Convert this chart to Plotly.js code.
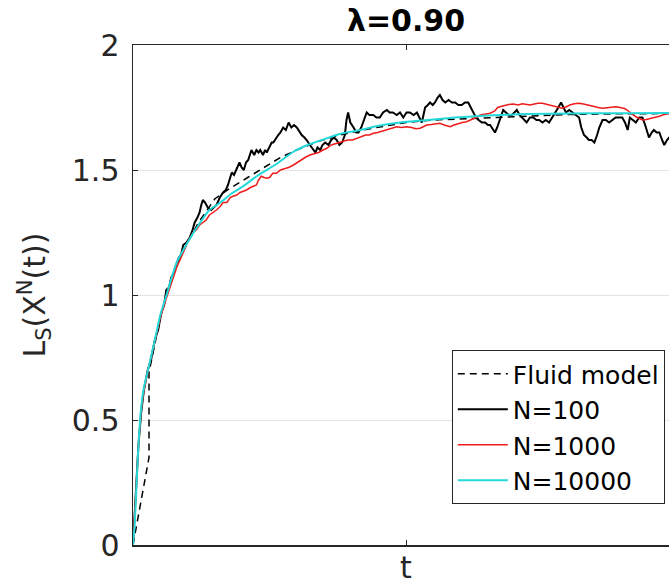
<!DOCTYPE html>
<html>
<head>
<meta charset="utf-8">
<script src="https://cdn.plot.ly/plotly-3.0.1.min.js"></script>
<style>
html,body{margin:0;padding:0;overflow:hidden;background:#fff;}
#chart{width:689px;height:585px;}
</style>
</head>
<body>
<div id="chart"></div>
<script>
// ---- data ----
const fluidT = [0, 2.93, 2.93, 4, 5, 6, 8, 10, 12, 15, 18, 21, 24, 27, 30, 34, 38, 42, 46, 50, 55, 60, 70, 80, 90, 100];
const fluidY = [0, 0.35, 0.69, 0.80, 0.91, 0.99, 1.12, 1.21, 1.29, 1.385, 1.43, 1.47, 1.51, 1.55, 1.58, 1.615, 1.64, 1.66, 1.675, 1.69, 1.70, 1.705, 1.715, 1.722, 1.725, 1.726];

const n100T = [0,0.5,1,1.5,2,2.7,3.3,4,4.6,5.2,5.7,6.1,6.6,7.0,7.5,7.9,8.4,8.8,9.2,9.8,10.4,10.9,11.3,11.8,12.2,12.5,12.8,13.2,13.7,14.3,14.8,15.3,15.9,16.5,17.0,17.4,17.8,18.1,18.5,18.9,19.2,19.5,19.9,20.3,20.7,21.1,21.4,21.7,22.2,22.6,23.0,23.3,23.8,24.2,24.5,25.0,25.4,25.7,26.2,26.6,27.0,27.5,28.0,28.5,29.0,29.5,30.0,30.5,30.9,31.4,31.8,32.4,33.0,33.4,33.8,34.3,34.7,35.2,35.8,36.3,36.8,37.3,37.8,38.3,38.8,39.1,39.4,39.8,40.4,40.9,41.3,41.8,42.3,42.8,43.3,44.0,44.6,45.2,45.8,46.5,47.0,47.6,48.3,48.9,49.5,50.1,50.7,51.4,52.0,52.5,52.9,53.2,53.5,54.0,54.4,54.9,55.3,55.8,56.2,56.7,57.2,57.8,58.4,59.0,59.6,60.2,60.8,61.4,61.9,62.3,62.8,63.3,63.9,64.5,65.0,65.4,65.9,66.3,66.7,67.0,67.4,67.8,68.3,68.8,69.4,69.9,70.3,70.8,71.2,71.7,72.1,72.7,73.3,73.9,74.4,75.0,75.6,76.2,76.8,77.4,77.9,78.4,78.9,79.3,79.9,80.5,81.1,81.7,82.1,82.6,83.1,83.5,84.0,84.5,85.0,85.4,86.0,86.6,87.2,87.8,88.4,89.0,89.6,90.1,90.6,91.0,91.5,92.1,92.7,93.3,93.8,94.2,94.5,95.0,95.4,95.9,96.4,96.9,97.3,97.8,98.2,99.0,100];
const n100Y = [0,0.22,0.40,0.53,0.62,0.70,0.74,0.82,0.86,0.93,0.96,1.02,1.03,1.07,1.09,1.12,1.15,1.16,1.20,1.21,1.23,1.26,1.29,1.31,1.33,1.36,1.38,1.37,1.35,1.34,1.35,1.36,1.39,1.41,1.42,1.44,1.47,1.49,1.48,1.50,1.52,1.53,1.51,1.50,1.53,1.54,1.56,1.58,1.56,1.58,1.57,1.58,1.56,1.58,1.57,1.59,1.61,1.61,1.63,1.64,1.65,1.67,1.66,1.69,1.67,1.68,1.67,1.65,1.64,1.63,1.62,1.60,1.58,1.57,1.59,1.58,1.60,1.61,1.60,1.62,1.63,1.62,1.60,1.61,1.64,1.70,1.73,1.69,1.67,1.65,1.65,1.67,1.70,1.73,1.72,1.72,1.71,1.71,1.73,1.74,1.73,1.73,1.72,1.73,1.71,1.73,1.73,1.72,1.73,1.71,1.69,1.72,1.75,1.76,1.77,1.76,1.77,1.79,1.80,1.78,1.77,1.78,1.77,1.77,1.76,1.76,1.77,1.77,1.75,1.73,1.71,1.70,1.69,1.69,1.68,1.68,1.66,1.65,1.67,1.69,1.72,1.74,1.73,1.72,1.72,1.73,1.74,1.72,1.71,1.70,1.69,1.71,1.71,1.70,1.70,1.69,1.70,1.69,1.71,1.73,1.75,1.77,1.75,1.73,1.74,1.73,1.72,1.71,1.67,1.64,1.63,1.62,1.62,1.61,1.64,1.67,1.70,1.70,1.69,1.70,1.71,1.71,1.71,1.69,1.66,1.71,1.70,1.69,1.71,1.71,1.68,1.65,1.63,1.65,1.66,1.65,1.65,1.62,1.60,1.62,1.63,1.63,1.62];

const n1000T = [0,0.5,1,1.5,2,2.75,4,5,6,7,8,9,10,11,11.6,12.2,12.8,13.4,14,14.7,15.3,16,16.5,17.2,17.8,18.3,19,19.6,20.2,20.8,21.5,22,22.6,23,23.5,24,24.5,25,25.6,26.3,27,27.7,28.5,29.4,30,30.8,31.5,32.4,33.2,34,34.8,35.5,36.3,37.1,37.9,38.6,39.3,40.2,41,41.8,42.6,43.3,44,44.8,45.6,46.5,47.4,48.3,49.2,50.1,51,51.8,52.6,53.2,53.8,54.6,55.4,56.2,57,57.6,58.1,58.8,59.5,60.3,61.1,61.8,62.5,63,63.6,64.5,65.4,66.2,66.8,67.2,68,68.8,69.7,70.5,71.3,72,72.7,73.5,74.2,75,75.8,76.6,77.4,78,78.6,79.3,80,80.8,81.7,82.5,83.5,84.3,85.2,86,86.8,87.6,88.4,89.2,90,90.5,91,91.6,92.1,92.7,93.3,94,94.6,95.1,95.8,96.4,97,97.6,98.2,99,100];
const n1000Y = [0,0.22,0.40,0.54,0.62,0.70,0.82,0.91,0.98,1.05,1.11,1.16,1.21,1.25,1.26,1.28,1.29,1.30,1.32,1.33,1.34,1.355,1.37,1.37,1.39,1.395,1.40,1.41,1.415,1.42,1.43,1.435,1.44,1.46,1.475,1.47,1.467,1.47,1.487,1.487,1.50,1.505,1.51,1.52,1.53,1.54,1.55,1.56,1.565,1.57,1.58,1.587,1.60,1.605,1.613,1.615,1.62,1.62,1.627,1.635,1.64,1.64,1.647,1.65,1.655,1.66,1.665,1.673,1.67,1.673,1.67,1.665,1.667,1.675,1.68,1.682,1.685,1.687,1.68,1.675,1.673,1.68,1.685,1.69,1.693,1.70,1.705,1.712,1.72,1.722,1.727,1.735,1.75,1.753,1.758,1.762,1.764,1.76,1.765,1.762,1.76,1.764,1.767,1.767,1.762,1.757,1.753,1.75,1.747,1.752,1.76,1.765,1.767,1.764,1.76,1.755,1.75,1.747,1.749,1.752,1.753,1.75,1.746,1.74,1.73,1.72,1.713,1.705,1.70,1.702,1.705,1.707,1.71,1.715,1.72,1.723,1.727,1.73,1.728];

const n10000T = [0,0.3,0.6,1.0,1.5,2.0,2.75,4,5,6,8,10,12,14,16,18,20,23,26,29.5,32,35.5,38,41.6,45,49,54,59,65,72,80,90,100];
const n10000Y = [0,0.08,0.22,0.40,0.55,0.63,0.70,0.82,0.92,0.99,1.13,1.21,1.28,1.34,1.37,1.405,1.433,1.48,1.52,1.575,1.60,1.627,1.645,1.66,1.677,1.69,1.70,1.71,1.718,1.724,1.726,1.727,1.728];

const legendNames = ['Fluid model', 'N=100', 'N=1000', 'N=10000'];
const yTicks = [0, 0.5, 1, 1.5, 2];
const xTicks = [50];

const FONT = 'DejaVu Sans, sans-serif';
const AX = '#262626';

const traces = [
  {x: fluidT, y: fluidY, name: legendNames[0], mode: 'lines',
   line: {color: '#000000', width: 1.5, dash: '7px,5px'}},
  {x: n100T, y: n100Y, name: legendNames[1], mode: 'lines',
   line: {color: '#000000', width: 2}},
  {x: n1000T, y: n1000Y, name: legendNames[2], mode: 'lines',
   line: {color: '#ee1c1c', width: 1.5}},
  {x: n10000T, y: n10000Y, name: legendNames[3], mode: 'lines', line: {shape: 'spline', smoothing: 0.6, color: '#22d8d8', width: 2}}
];

const layout = {
  width: 689, height: 585,
  margin: {l: 133, r: 10, t: 45, b: 40},
  paper_bgcolor: '#ffffff', plot_bgcolor: '#ffffff',
  font: {family: FONT, color: AX},
  showlegend: true,
  title: {text: '<b>λ=0.90</b>', font: {family: FONT, size: 30, color: '#000'},
          x: 0.5, xref: 'paper', xanchor: 'center', y: 1 - 20/585, yref: 'container', yanchor: 'middle'},
  xaxis: {
    range: [0, 100], tickmode: 'array', tickvals: xTicks, showticklabels: false,
    ticks: 'inside', ticklen: 5, tickcolor: AX, showgrid: false, zeroline: false,
    showline: true, linecolor: AX, linewidth: 1.5, mirror: 'ticks', automargin: false,
    title: {text: 't', font: {family: FONT, size: 30, color: AX}, standoff: 12}
  },
  yaxis: {
    range: [0, 2], tickmode: 'array', tickvals: yTicks, ticktext: yTicks.map(String),
    ticks: 'inside', ticklen: 5, tickcolor: AX, showgrid: true, gridcolor: '#e3e3e3', gridwidth: 1,
    zeroline: false, showline: true, linecolor: AX, linewidth: 1.5, mirror: 'ticks', automargin: false,
    tickfont: {family: FONT, size: 30, color: AX}, ticklabelstandoff: 6,
    title: {text: 'L<sub>S</sub>(X<sup>N</sup>(t))', font: {family: FONT, size: 30, color: AX}, standoff: 17}
  },
  legend: {
    x: 0.974, y: 0.082, xanchor: 'right', yanchor: 'bottom',
    bgcolor: '#ffffff', bordercolor: AX, borderwidth: 1, itemwidth: 50,
    font: {family: FONT, size: 25, color: '#000'}, tracegroupgap: 0
  }
};

Plotly.newPlot('chart', traces, layout, {staticPlot: true, displayModeBar: false});
</script>
</body>
</html>
